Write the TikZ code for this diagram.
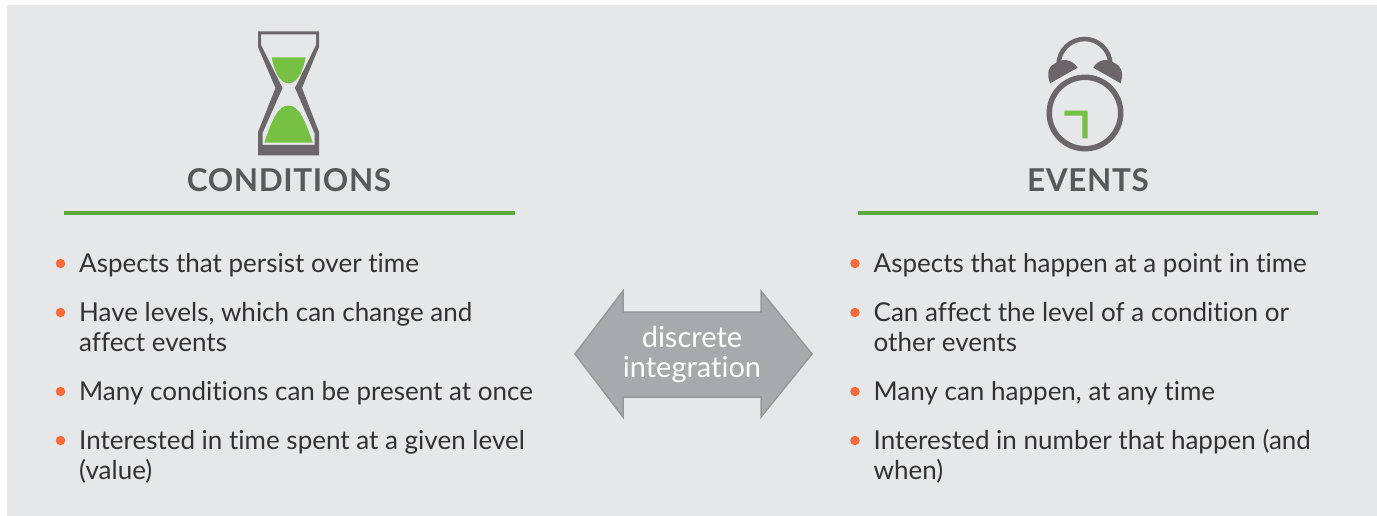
\documentclass[tikz,border=0pt]{standalone}
\usepackage{fontspec}
\setmainfont[Ligatures=NoCommon]{Lato}
\newfontfamily\headfont[LetterSpace=2.0]{Lato}
\usepackage{xcolor}
\definecolor{panelgrey}{HTML}{E6E7E9}
\definecolor{icongrey}{HTML}{6A666A}
\definecolor{headgrey}{HTML}{58595B}
\definecolor{textgrey}{HTML}{333132}
\definecolor{leafgreen}{HTML}{76C143}
\definecolor{rulegreen}{HTML}{5DA83C}
\definecolor{dotorange}{HTML}{FA6B3C}
\definecolor{arrowfill}{HTML}{A7A9AC}
\definecolor{arrowline}{HTML}{969799}
\tikzset{
	heading/.style={font=\fontsize{31.5}{36}\headfont\bfseries,text=headgrey,inner sep=0pt,anchor=base},
	item/.style={font=\fontsize{26}{30}\selectfont,text=textgrey,inner sep=0pt,align=left,anchor=base west},
	dot/.style={circle,fill=dotorange,inner sep=0pt,minimum size=9.5pt},
	greenrule/.style={rulegreen,line width=4pt}
}
\begin{document}
\begin{tikzpicture}[x=1pt,y=-1pt]
	\useasboundingbox (0,0) rectangle (1377,516);
	\fill[white] (0,0) rectangle (1377,516);
	\fill[panelgrey] (7,5) rectangle (1377,516);

	% hourglass
	\fill[icongrey,even odd rule] (258,31.5) -- (319,31.5) -- (319,47) -- (302,88) -- (319,132) -- (319,155.5) -- (258,155.5) -- (258,132) -- (275.5,88) -- (258,47) -- cycle
		(261,34.5) -- (316,34.5) -- (316,45) -- (295,88) -- (314.5,133) -- (314.5,145) -- (262.5,145) -- (262.5,133) -- (282.5,88) -- (261,45) -- cycle;
	\fill[leafgreen] (271.7,57.3) -- (305.7,57.3) .. controls (302,75) and (296,83.3) .. (288.7,83.3) .. controls (281,83.3) and (275,75) .. (271.7,57.3) -- cycle;
	\fill[leafgreen] (264.3,142.7) -- (312.7,142.7) .. controls (305,120) and (299,105.5) .. (288.5,105.5) .. controls (278,105.5) and (272,120) .. (264.3,142.7) -- cycle;

	% clock
	\draw[icongrey,line width=5.5pt] (1085,113) circle (35.7);
	\draw[icongrey,line width=4.5pt] (1058.5,65) arc[start angle=180,end angle=360,radius=26];
	\fill[icongrey] (1050,83.3) .. controls (1046,72) and (1049,66) .. (1055,63.3) .. controls (1062,58) and (1072,59) .. (1077.7,67.7) -- cycle;
	\fill[icongrey] (1120.7,83.3) .. controls (1124,72) and (1121,66) .. (1115,63.3) .. controls (1108,58) and (1098,59) .. (1093.3,67.7) -- cycle;
	\fill[leafgreen] (1064.3,110.7) -- (1087.7,110.7) -- (1087.7,138.3) -- (1082.3,138.3) -- (1082.3,115.7) -- (1064.3,115.7) -- cycle;

	\node[heading] (conditions) at (289,192) {CONDITIONS};
	\node[heading] (events) at (1088,192) {EVENTS};
	\coordinate (cl) at (64,213);
	\coordinate (cr) at (515,213);
	\coordinate (el) at (858,213);
	\coordinate (er) at (1318,213);
	\draw[greenrule] (cl) -- (cr);
	\draw[greenrule] (el) -- (er);

	\foreach \n/\b/\y/\t in {1/263.5/272.5/Aspects that persist over time,
		2/312.5/351.5/{Have levels, which can change and\\affect events},
		3/391.5/400.5/Many conditions can be present at once,
		4/440.5/479.5/{Interested in time spent at a given level\\(value)}} {
		\node[dot] (conddot\n) at (60.5,\b) {};
		\node[item] (conditem\n) at (79,\y) {\t};
	}
	\foreach \n/\b/\y/\t in {1/263.5/272.5/Aspects that happen at a point in time,
		2/312.5/351.5/{Can affect the level of a condition or\\other events},
		3/391.5/400.5/{Many can happen, at any time},
		4/440.5/479.5/{Interested in number that happen (and\\when)}} {
		\node[dot] (evdot\n) at (855,\b) {};
		\node[item] (evitem\n) at (873.5,\y) {\t};
	}

	% double arrow
	\draw[fill=arrowfill,draw=arrowline,line width=1.5pt,line join=miter]
		(575,354) -- (623,291) -- (623,312) -- (761,312) -- (761,291) -- (812,354) -- (761,417) -- (761,397) -- (623,397) -- (623,417) -- cycle;
	\node[font=\fontsize{29}{30}\selectfont,text=white,align=center,inner sep=0pt] (integration) at (692,354) {discrete\\integration};
\end{tikzpicture}
\end{document}
